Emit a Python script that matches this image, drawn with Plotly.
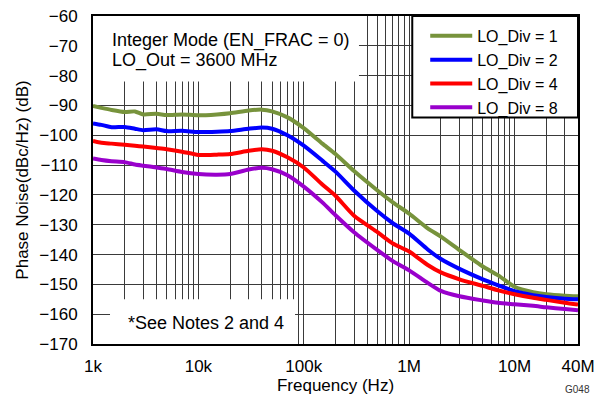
import plotly.graph_objects as go

# frequency points (Hz)
freq = [1e3, 1.2e3, 1.5e3, 2e3, 2.5e3, 3e3, 4e3, 5e3, 7e3, 1e4, 1.5e4, 2e4, 3e4, 4e4, 5e4, 7e4,
        1e5, 1.5e5, 2e5, 3e5, 5e5, 7e5, 1e6, 1.5e6, 2e6, 3e6, 5e6, 7e6, 1e7, 1.5e7, 2e7, 3e7, 4e7]

div1 = [-90.2, -90.8, -91.5, -92.2, -92.0, -93.0, -92.8, -93.2, -93.0, -93.3, -93.0, -92.6, -91.7, -91.4, -92.0, -94.0,
        -97.6, -102.8, -106.3, -112.0, -118.5, -122.5, -126.3, -131.2, -134.0, -138.5, -144.0, -147.0, -150.8, -152.6, -153.3, -153.8, -154.0]
div2 = [-96.0, -96.5, -97.3, -97.2, -97.8, -98.3, -98.0, -98.6, -98.5, -98.9, -98.8, -98.6, -97.8, -97.4, -97.8, -100.0,
        -103.5, -108.5, -112.2, -118.5, -125.5, -129.5, -133.0, -138.3, -141.5, -144.8, -148.3, -150.3, -152.3, -153.6, -154.2, -154.8, -155.0]
div4 = [-101.9, -102.5, -102.8, -103.2, -103.5, -103.8, -104.3, -104.7, -105.5, -106.6, -106.5, -106.3, -105.2, -104.7, -105.2, -107.4,
        -110.8, -116.5, -120.3, -127.0, -132.5, -136.3, -139.0, -143.5, -146.0, -148.3, -150.5, -152.0, -153.3, -154.5, -155.2, -156.2, -156.8]
div8 = [-107.8, -108.3, -108.7, -109.0, -109.8, -110.2, -110.8, -111.3, -112.3, -113.0, -113.2, -113.0, -111.5, -110.9, -111.4, -113.4,
        -117.2, -122.5, -126.8, -132.5, -138.5, -142.2, -145.3, -149.5, -152.2, -154.0, -155.4, -156.2, -156.7, -157.2, -157.7, -158.3, -158.7]

names = ["LO_Div = 1", "LO_Div = 2", "LO_Div = 4", "LO_Div = 8"]
colors = ["#77933C", "#0000FF", "#FF0000", "#9900CC"]

# grid lines at 1..9 per decade, labels only on a few
grid_x = [m * 10 ** e for e in range(3, 8) for m in range(1, 10) if m * 10 ** e <= 4e7]
label_map = {1e3: "1k", 1e4: "10k", 1e5: "100k", 1e6: "1M", 1e7: "10M", 4e7: "40M"}
grid_text = [label_map.get(v, "") for v in grid_x]

font = "Arial, Liberation Sans, sans-serif"

fig = go.Figure()
for name, ys, c in zip(names, [div1, div2, div4, div8], colors):
    fig.add_trace(go.Scatter(x=freq, y=ys, name=name, mode="lines",
                             line=dict(color=c, width=4, shape="spline", smoothing=0.6)))

# white boxes behind the texts / legend (hide grid)
fig.add_shape(type="rect", x0=1e3, x1=3.34e5, y0=-82, y1=-60, layer="between",
              fillcolor="white", line=dict(width=0))
fig.add_shape(type="rect", x0=1.45e3, x1=8.26e4, y0=-170, y1=-155, layer="between",
              fillcolor="white", line=dict(width=0))
fig.add_shape(type="rect", x0=1.07e6, x1=4e7, y0=-94, y1=-60, layer="between",
              fillcolor="white", line=dict(width=2, color="black"))

fig.add_annotation(text="Integer Mode (EN_FRAC = 0)", xref="paper", yref="paper",
                   x=0.035, y=0.924, xanchor="left", yanchor="middle", showarrow=False,
                   font=dict(size=18, color="black", family=font))
fig.add_annotation(text="LO_Out = 3600 MHz", xref="paper", yref="paper",
                   x=0.035, y=0.863, xanchor="left", yanchor="middle", showarrow=False,
                   font=dict(size=18, color="black", family=font))
fig.add_annotation(text="*See Notes 2 and 4", xref="paper", yref="paper",
                   x=0.234, y=0.065, xanchor="center", yanchor="middle", showarrow=False,
                   font=dict(size=18, color="black", family=font))
fig.add_annotation(text="G048", xref="paper", yref="paper",
                   x=0.998, y=-0.14, xanchor="center", yanchor="middle", showarrow=False,
                   font=dict(size=10, color="#333333", family=font))

fig.update_xaxes(type="log", range=[3, 7.60206], tickvals=grid_x, ticktext=grid_text,
                 showgrid=True, gridcolor="#3a3a3a", gridwidth=1,
                 showline=True, linecolor="black", linewidth=2, mirror=True,
                 ticks="", ticklabelstandoff=6, automargin=False,
                 title=dict(text="Frequency (Hz)", standoff=4,
                            font=dict(size=17, color="black", family=font)),
                 tickfont=dict(size=17, color="black", family=font), zeroline=False)
fig.update_yaxes(range=[-170, -60], dtick=10,
                 showgrid=True, gridcolor="#3a3a3a", gridwidth=1,
                 showline=True, linecolor="black", linewidth=2, mirror=True,
                 ticks="", ticklabelstandoff=10, automargin=False,
                 title=dict(text="Phase Noise(dBc/Hz) (dB)", standoff=6,
                            font=dict(size=17, color="black", family=font)),
                 tickfont=dict(size=17, color="black", family=font), zeroline=False)

fig.update_layout(
    width=608, height=396,
    margin=dict(l=93, r=30, t=16, b=52, autoexpand=False),
    plot_bgcolor="white", paper_bgcolor="white",
    font=dict(family=font, color="black"),
    legend=dict(x=0.685, y=0.991, xanchor="left", yanchor="top",
                bgcolor="rgba(0,0,0,0)", borderwidth=0, itemwidth=42,
                font=dict(size=16, color="black", family=font),
                tracegroupgap=0),
)

# page body has a default 8px margin, drop it so the figure sits at 0,0
fig.write_html("out.html", config={"displayModeBar": False},
               post_script="document.body.style.margin='0';")
